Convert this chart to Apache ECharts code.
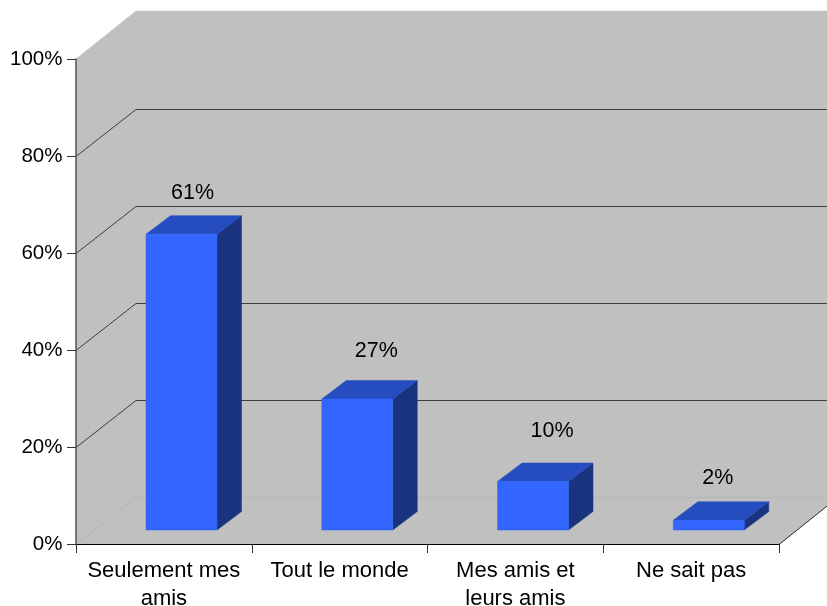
<!DOCTYPE html>
<html>
<head>
<meta charset="utf-8">
<style>html,body{margin:0;padding:0;background:#fff}#c{width:827px;height:606px}</style>
<script src="https://cdn.jsdelivr.net/npm/echarts@6/dist/echarts.min.js"></script>
</head>
<body>
<div id="c"></div>
<script>
var categories = ['Seulement mes\namis', 'Tout le monde', 'Mes amis et\nleurs amis', 'Ne sait pas'];
var values = [61, 27, 10, 2];
var yTicks = [0, 20, 40, 60, 80, 100];

// 3D projection styling (pixels)
var depthX = 60, depthY = 48, gridDepthY = 47;
var barDepthX = 24.5, barDepthY = 18.5;
var barShiftX = 17.625, barShiftY = 14, barWidth = 71;
var labelShift = [[11, -41], [19, -48], [19, -50], [9, -42]];
var FONT = '"Liberation Sans", Arial, sans-serif';

function poly(points, fill, z) {
  return { type: 'polygon', shape: { points: points }, style: { fill: fill, stroke: fill, lineWidth: 0.5 }, z2: z || 0 };
}
function seg(x1, y1, x2, y2, color, w, dash) {
  return { type: 'line', shape: { x1: x1, y1: y1, x2: x2, y2: y2 },
    style: { stroke: color, lineWidth: w, lineDash: dash || null, fill: null }, z2: 5 };
}

function renderWalls(params, api) {
  var cs = params.coordSys;
  var L = cs.x, R = cs.x + cs.width;
  var top = api.coord([0, 100])[1], bot = api.coord([0, 0])[1];
  var kids = [
    poly([[L, top], [L + depthX, top - depthY], [R + depthX + 60, top - depthY], [R + depthX + 60, bot - depthY], [R + depthX, bot - depthY], [R, bot], [L, bot]], '#c0c0c0')
  ];
  yTicks.forEach(function (t) {
    if (t === 100) return;
    var y = Math.round(api.coord([0, t])[1]) + 0.5;
    var c = t === 0 ? '#b0b0b0' : '#3c3c3c';
    kids.push(seg(L, y, L + depthX, y - gridDepthY, c, 1, t === 0 ? [2, 1] : null));
    kids.push(seg(L + depthX, y - gridDepthY, R + depthX + 60, y - gridDepthY, t === 0 ? '#b6b6b6' : '#3c3c3c', 1));
  });
  kids.push(seg(R, bot + 0.5, R + depthX, bot - depthY + 0.5, '#222', 1));
  return { type: 'group', children: kids };
}

function renderBar(params, api) {
  var i = api.value(0), v = api.value(1);
  var c = api.coord([i, v]), b = api.coord([i, 0]);
  var x0 = c[0] - barWidth / 2 + barShiftX, x1 = x0 + barWidth;
  var yT = c[1] - barShiftY, yB = b[1] - barShiftY;
  var dx = barDepthX, dy = barDepthY;
  return { type: 'group', children: [
    poly([[x1, yT], [x1 + dx, yT - dy], [x1 + dx, yB - dy], [x1, yB]], '#19337f'),
    poly([[x0, yT], [x0 + dx, yT - dy], [x1 + dx, yT - dy], [x1, yT]], '#264dbf'),
    poly([[x0, yT], [x1, yT], [x1, yB], [x0, yB]], '#3366ff'),
    { type: 'text', z2: 10, style: {
      x: (x0 + x1) / 2 + labelShift[i][0], y: yT + labelShift[i][1],
      text: v + '%', fill: '#000', font: '21.5px ' + FONT, align: 'center', verticalAlign: 'middle' } }
  ] };
}

var chart = echarts.init(document.getElementById('c'), null, { renderer: 'canvas' });
chart.setOption({
  animation: false,
  backgroundColor: '#fff',
  grid: { left: 76, right: 48, top: 59, bottom: 62, containLabel: false, outerBoundsMode: 'none' },
  xAxis: {
    type: 'category', data: categories, z: 20,
    axisLine: { show: true, onZero: false, lineStyle: { color: '#000', width: 1 } },
    axisTick: { show: true, length: 9, alignWithLabel: false, lineStyle: { color: '#333' } },
    axisLabel: { color: '#000', fontFamily: FONT, fontSize: 22, margin: 13, lineHeight: 28, interval: 0, hideOverlap: false }
  },
  yAxis: {
    type: 'value', min: 0, max: 100, interval: 20, z: 20,
    axisLine: { show: true, lineStyle: { color: '#555', width: 1.5 } },
    axisTick: { show: true, length: 9, lineStyle: { color: '#333' } },
    splitLine: { show: false },
    axisLabel: { color: '#000', fontFamily: FONT, fontSize: 20.5, margin: 13.5, formatter: '{value}%' }
  },
  series: [
    { type: 'custom', name: 'walls', z: 1, clip: false, silent: true, renderItem: renderWalls, data: [[0, 0]], encode: { x: 0, y: 1 } },
    { type: 'custom', name: 'bars', z: 3, clip: false, renderItem: renderBar,
      data: values.map(function (v, i) { return [i, v]; }), encode: { x: 0, y: 1 } }
  ]
});
</script>
</body>
</html>
